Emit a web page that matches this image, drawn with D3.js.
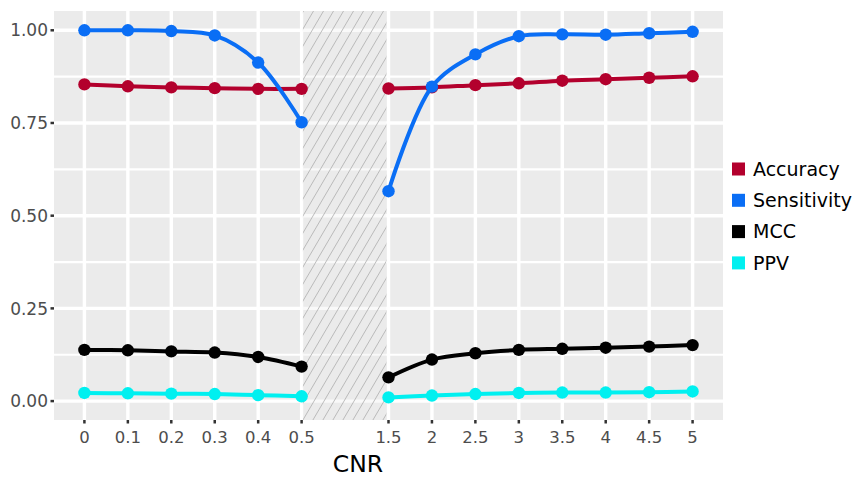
<!DOCTYPE html>
<html><head><meta charset="utf-8">
<script src="https://cdn.jsdelivr.net/npm/d3@7"></script>
<style>body{margin:0;background:#fff;}svg{display:block;font-family:"DejaVu Sans",sans-serif;}</style>
</head><body>
<svg id="c" width="855" height="477"></svg>
<script>
// categories (index 6 is the gap between 0.5 and 1.5)
const cnrLeft = ["0","0.1","0.2","0.3","0.4","0.5"];
const cnrRight = ["1.5","2","2.5","3","3.5","4","4.5","5"];
const categories = cnrLeft.concat(cnrRight);
const catIndex = [0,1,2,3,4,5,7,8,9,10,11,12,13,14];

const accuracy    = [0.854,0.849,0.846,0.844,0.842,0.842, 0.843,0.846,0.852,0.857,0.864,0.868,0.872,0.876];
const sensitivity = [1.000,1.000,0.998,0.986,0.913,0.752, 0.566,0.848,0.935,0.984,0.989,0.988,0.992,0.996];
const mcc         = [0.138,0.137,0.134,0.131,0.119,0.093, 0.064,0.112,0.129,0.138,0.141,0.144,0.147,0.151];
const ppv         = [0.022,0.021,0.020,0.019,0.016,0.013, 0.010,0.015,0.019,0.022,0.023,0.023,0.024,0.026];

const seriesNames = ["Accuracy","Sensitivity","MCC","PPV"];
const seriesColors = ["#b3002d","#0a6ef5","#000000","#00f0f0"];
const seriesValues = [accuracy, sensitivity, mcc, ppv];

const yTicks = [0, 0.25, 0.5, 0.75, 1.0];
const yTickLabels = ["0.00","0.25","0.50","0.75","1.00"];
const yMinor = [0.125, 0.375, 0.625, 0.875];

const svg = d3.select("#c");
const P = {l:54, r:723, t:11, b:420};
const x = d3.scaleLinear().domain([-0.7, 14.7]).range([P.l, P.r]);
const y = d3.scaleLinear().domain([-0.051, 1.052]).range([P.b, P.t]);

// panel
svg.append("rect").attr("x",P.l).attr("y",P.t).attr("width",P.r-P.l).attr("height",P.b-P.t).attr("fill","#ebebeb");

// grid
const g = svg.append("g");
g.selectAll(".mn").data(yMinor).enter().append("line")
  .attr("x1",P.l).attr("x2",P.r).attr("y1",d=>y(d)).attr("y2",d=>y(d))
  .attr("stroke","#fff").attr("stroke-width",2.2);
g.selectAll(".mj").data(yTicks).enter().append("line")
  .attr("x1",P.l).attr("x2",P.r).attr("y1",d=>y(d)).attr("y2",d=>y(d))
  .attr("stroke","#fff").attr("stroke-width",3.4);
g.selectAll(".vx").data(catIndex).enter().append("line")
  .attr("y1",P.t).attr("y2",P.b).attr("x1",d=>x(d)).attr("x2",d=>x(d))
  .attr("stroke","#fff").attr("stroke-width",3.4);

// hatched gap region
const defs = svg.append("defs");
const clip = defs.append("clipPath").attr("id","hclip");
const hx0 = x(5.03), hx1 = x(6.95);
clip.append("rect").attr("x",hx0).attr("y",P.t).attr("width",hx1-hx0).attr("height",P.b-P.t);
svg.append("rect").attr("x",hx0).attr("y",P.t).attr("width",hx1-hx0).attr("height",P.b-P.t)
  .attr("fill","#ebebeb").attr("fill-opacity",0.3);
const hg = svg.append("g").attr("clip-path","url(#hclip)");
const slope = 1.7, spacing = 10;
const hatchOffsets = d3.range(-40, 12).map(i=>i*spacing);
hg.selectAll("line").data(hatchOffsets).enter().append("line")
  .attr("x1",d=>hx0+d).attr("y1",P.b)
  .attr("x2",d=>hx0+d+(P.b-P.t)/slope).attr("y2",P.t)
  .attr("stroke","#aaaaaa").attr("stroke-width",0.75);

// series
const line = d3.line().x(d=>x(d.i)).y(d=>y(d.v)).curve(d3.curveCatmullRom.alpha(0.5));
seriesValues.forEach((vals, s) => {
  const pts = vals.map((v,k)=>({i:catIndex[k], v}));
  const segs = [pts.slice(0,6), pts.slice(6)];
  const sg = svg.append("g");
  segs.forEach(seg => sg.append("path").attr("d",line(seg)).attr("fill","none")
     .attr("stroke",seriesColors[s]).attr("stroke-width",4).attr("stroke-linecap","round"));
  sg.selectAll("circle").data(pts).enter().append("circle")
    .attr("cx",d=>x(d.i)).attr("cy",d=>y(d.v)).attr("r",6.2).attr("fill",seriesColors[s]);
});

// y axis
const ya = svg.append("g");
ya.selectAll("line").data(yTicks).enter().append("line")
  .attr("x1",P.l-3.5).attr("x2",P.l).attr("y1",d=>y(d)).attr("y2",d=>y(d))
  .attr("stroke","#333").attr("stroke-width",2.5);
ya.selectAll("text").data(yTicks).enter().append("text")
  .attr("x",P.l-6).attr("y",d=>y(d)).attr("dy","0.36em").attr("text-anchor","end")
  .attr("font-size",17).attr("fill","#4d4d4d").text((d,i)=>yTickLabels[i]);

// x axis
const xa = svg.append("g");
xa.selectAll("line").data(catIndex).enter().append("line")
  .attr("x1",d=>x(d)).attr("x2",d=>x(d)).attr("y1",P.b).attr("y2",P.b+3.5)
  .attr("stroke","#333").attr("stroke-width",2.5);
xa.selectAll("text").data(catIndex).enter().append("text")
  .attr("x",d=>x(d)).attr("y",443).attr("text-anchor","middle")
  .attr("font-size",16.5).attr("fill","#4d4d4d").text((d,k)=>categories[k]);
svg.append("text").attr("x",358).attr("y",472).attr("text-anchor","middle")
  .attr("font-size",23.5).attr("fill","#000").text("CNR");

// legend
const lg = svg.append("g");
seriesNames.forEach((n,s)=>{
  const cy = 169 + s*31.3;
  lg.append("rect").attr("x",732).attr("y",cy-6.5).attr("width",13).attr("height",13).attr("fill",seriesColors[s]);
  lg.append("text").attr("x",753).attr("y",cy).attr("dy","0.36em").attr("font-size",19).attr("fill","#000").text(n);
});
</script>
</body></html>
